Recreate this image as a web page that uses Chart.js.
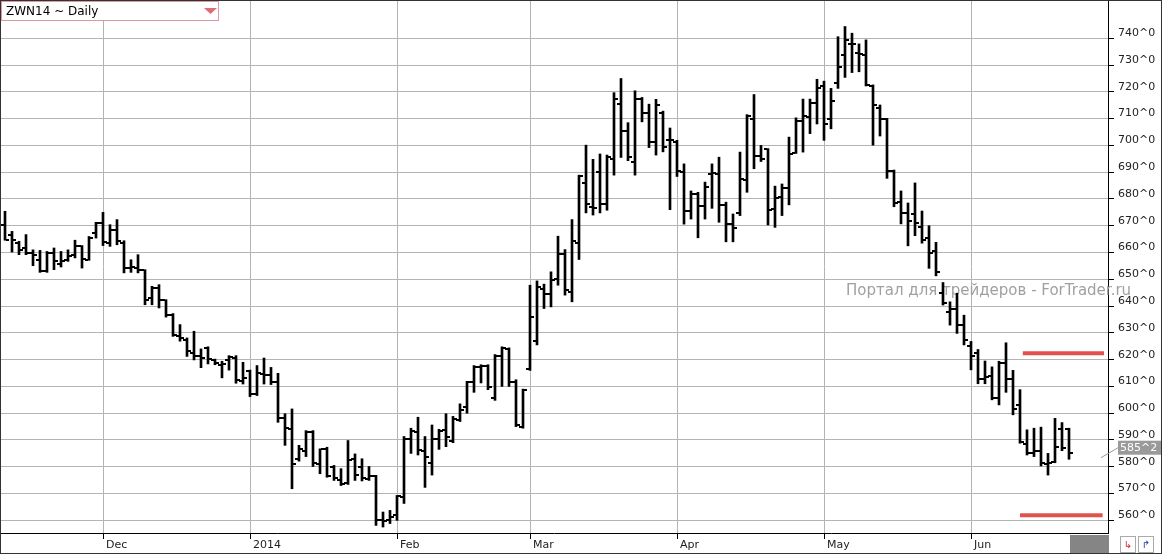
<!DOCTYPE html>
<html>
<head>
<meta charset="utf-8">
<script src="https://cdn.jsdelivr.net/npm/chart.js@4.4.1/dist/chart.umd.min.js"></script>
<style>
  body { margin: 0; background: #fff; }
  canvas { display: block; }
</style>
</head>
<body>
<canvas id="ohlcChart" width="1162" height="554"></canvas>
<script>
// daily bars, index 0 = first bar on the left (mid Nov 2013)
const opens = [
    670.4, 666.7, 663.6, 661.7, 659.8, 657.3, 653, 660, 655.8, 657.3,
    659.2, 662.3, 657.3, 667.3, 671, 663.6, 668.5, 663.6, 654.2, 654.2,
    653.4, 643, 646.8, 642.1, 636.8, 629, 627.4, 622.5, 621.5, 624.5,
    620, 618.1, 619.9, 620.6, 612.2, 615.9, 607.2, 614.7, 614.4, 611.6,
    598.3, 594.2, 583, 586, 592.9, 581.1, 586.7, 580.1, 575.2, 573.9,
    583, 579.9, 575.5, 576.4, 560, 560, 561.9, 568.8, 590.3, 593.1,
    586, 581.5, 590.3, 593.8, 589.8, 597.3, 602.3, 611.5, 617.3, 617.5,
    605.6, 621.3, 623.8, 611.5, 594.8, 616.5, 627, 646.2, 644.7, 650.3,
    659.4, 645.3, 663.6, 686, 677.1, 690.1, 678.3, 694.8, 715.4, 705.5,
    693.9, 717.2, 712.2, 701.4, 712.2, 702, 701.4, 690.1, 675.4, 681.9,
    677.5, 689.4, 689.4, 677.8, 670.6, 674.8, 686.9, 709.8, 696, 698.8,
    676.3, 680.6, 684, 697.3, 709, 710.6, 716, 722, 710, 723.4,
    733.8, 737.9, 734.4, 733.8, 722.2, 713.8, 709.7, 690.6, 679, 674.8,
    674.5, 669.5, 665.5, 660.4, 645, 637.9, 638.8, 632.9, 625, 622.4,
    612.7, 613.8, 605.6, 618.8, 612.8, 603.1, 588.5, 585.3, 586, 581,
    581.9, 594, 594
];
const highs = [
    675.4, 667.9, 664.2, 666.7, 661, 660.8, 660.4, 661.7, 660.4, 661,
    664.6, 662.6, 666, 671.3, 675, 670.4, 672.3, 664.4, 657.3, 659.2,
    653.6, 647.4, 648, 642.4, 637.2, 633.1, 628.1, 630.6, 624, 624.8,
    620.2, 619.4, 621.5, 621.5, 619, 616.1, 617.8, 620.6, 617.1, 614.9,
    599.8, 601.6, 588, 593.5, 593.5, 586.7, 587.3, 580.5, 579.3, 589.8,
    584.8, 583, 580.1, 576.8, 563.1, 563.7, 569.3, 591.3, 594.4, 598.5,
    591.3, 595.6, 594, 599.8, 598.8, 603.5, 611.9, 617.8, 618.1, 618.1,
    621.9, 624.8, 624.4, 612.5, 609, 647.8, 649.4, 648.2, 652.8, 666.1,
    661.1, 672.3, 688.9, 700.1, 694.8, 696.8, 696.4, 719.7, 725, 708.5,
    720.4, 717.9, 715.4, 717.2, 712.8, 706.5, 701.9, 693.1, 683, 682.5,
    686.3, 693.1, 695.6, 678.8, 674.4, 697.5, 711.5, 719, 700, 698.8,
    684.8, 685.6, 703.1, 710.3, 717.3, 717.3, 724.7, 724, 721.3, 740.6,
    744.4, 741.9, 737.9, 739.4, 722.6, 715.1, 710.1, 690.8, 683, 678.5,
    686, 675.5, 670, 663.8, 648.8, 641.6, 644.8, 636.6, 626.8, 623.8,
    619.5, 617.3, 619.4, 626.3, 616, 608.8, 593.8, 594.4, 594.8, 585,
    598.1, 596.5, 594.4
];
const lows = [
    664.6, 660.2, 659.2, 659.2, 655.1, 652.6, 652.6, 653.6, 654.6, 656.7,
    658, 654.2, 657.1, 665.4, 662.6, 662.3, 662.9, 652.4, 652.6, 652.4,
    640.5, 640.5, 639.3, 635.9, 628.7, 626.9, 621.2, 619.9, 617, 618.4,
    618.1, 613.2, 616.1, 611.2, 610.9, 606.2, 606.6, 610.9, 610.7, 596.6,
    588, 571.8, 582.1, 583.8, 580.1, 577.4, 576.1, 574.9, 573, 573.4,
    574.9, 574.7, 574.9, 558.1, 557.5, 558.8, 560, 566.3, 585, 584.4,
    572.3, 576.9, 586.5, 587.5, 589, 596.9, 600, 607.8, 611.3, 608.8,
    604.8, 610, 610, 595, 594.4, 616, 625.5, 639.1, 639.7, 647.8,
    644.1, 641.6, 657.4, 674.8, 674, 674.8, 675.8, 688.9, 695.5, 694.3,
    688.9, 708.8, 699.2, 696.4, 697.6, 676, 688.4, 670.6, 672.5, 665.5,
    672.5, 676.5, 671.3, 664, 664, 673.8, 682.5, 691.3, 694, 670.3,
    669.4, 673.8, 677.8, 697, 697.5, 704.4, 708, 701.9, 706.2, 721.3,
    725.4, 727.2, 727.5, 722.2, 700.1, 703.5, 687.7, 677.1, 670.7, 662.5,
    666.3, 663.5, 654.1, 651.3, 640.4, 632.9, 629.8, 625.5, 616.2, 611,
    611, 605, 603.1, 607.8, 599.4, 588.8, 584.4, 583.8, 580.3, 576.9,
    581.5, 586, 582.8
];
const closes = [
    664.8, 664.8, 661, 659.8, 659, 653, 659.8, 656.7, 656.7, 658.6,
    662.3, 657.7, 665.4, 671, 663.8, 668.5, 664.2, 654.2, 654.6, 653.6,
    642.4, 646.8, 642.4, 636.8, 629.3, 628.1, 623.1, 621.2, 620.5, 620.2,
    618.6, 618.4, 621.1, 612.4, 613.2, 607.2, 614.9, 614.4, 611.6, 598.3,
    594.5, 580.9, 586.7, 592.9, 581.4, 586.7, 576.4, 575.9, 573.7, 582.4,
    576.8, 575.9, 576.4, 560, 559.8, 561.2, 568.9, 590.3, 593.5, 586.3,
    583.8, 590.3, 593.5, 591, 597.8, 601.3, 611.5, 617.3, 617.8, 609.8,
    621.3, 624.4, 611.5, 595.6, 608.5, 636, 647.2, 644.4, 649.7, 659.4,
    645.9, 664.4, 688.5, 678.3, 676.5, 678.3, 695.8, 717.2, 705.5, 695.8,
    717.2, 712.2, 701.4, 715.1, 699.5, 702, 690.5, 675.4, 682, 677.2,
    684.4, 689.8, 677.8, 670.6, 669, 687.3, 711, 696, 695, 676,
    680.3, 684, 696.9, 709, 711, 716, 721.5, 708.1, 716.6, 729.2,
    739.4, 737.9, 734.1, 722.6, 715.1, 709.7, 690.6, 678.6, 674.8, 671.6,
    671, 664.6, 659.8, 652.9, 641, 638.8, 632.9, 627.4, 621.3, 612.6,
    613.5, 605.6, 618.8, 612.8, 601.5, 589.4, 585, 586, 581.3, 581.5,
    587.3, 586.9, 585.25
];

// first bar of each month
const monthIdx = [14, 35, 56, 75, 96, 117, 138];
const monthLabels = ["Dec", "2014", "Feb", "Mar", "Apr", "May", "Jun"];
const priceTicks = [560, 570, 580, 590, 600, 610, 620, 630, 640, 650,
    660, 670, 680, 690, 700, 710, 720, 730, 740];

// the two red level lines (price, first bar, last bar)
const levelPrices = [622.4, 561.9];
const levelFrom = [145.4, 145.0];
const levelTo = [157.0, 156.8];

const lastPrice = 585.25;
const lastPriceText = "585^2";
const symbolText = "ZWN14 ~ Daily";
const watermark = "Портал для трейдеров - ForTrader.ru";

const axisFont = { family: "'DejaVu Sans'", size: 11 };

// open tick on the left, close tick on the right
const ohlcTicks = {
    id: 'ohlcTicks',
    afterDatasetsDraw(chart) {
        const { ctx, scales: { x, y } } = chart;
        ctx.save();
        ctx.fillStyle = '#000';
        opens.forEach((o, i) => {
            const px = Math.round(x.getPixelForValue(i));
            ctx.fillRect(px - 4, Math.round(y.getPixelForValue(o)) - 1, 3, 2);
            ctx.fillRect(px + 1, Math.round(y.getPixelForValue(closes[i])) - 1, 3, 2);
        });
        ctx.restore();
    }
};

const decor = {
    id: 'decor',
    beforeDatasetsDraw(chart) {
        const ctx = chart.ctx;
        const y = chart.scales.y;
        ctx.save();
        ctx.fillStyle = '#a0a0a0';
        ctx.font = "15px 'DejaVu Sans'";
        ctx.textBaseline = 'middle';
        ctx.textAlign = 'left';
        ctx.fillText(watermark, 846, y.getPixelForValue(645.5));
        ctx.restore();
    },
    afterDraw(chart) {
        const ctx = chart.ctx;
        const y = chart.scales.y;
        ctx.save();
        // symbol box
        ctx.fillStyle = '#fff';
        ctx.fillRect(1, 1, 218, 20);
        ctx.strokeStyle = '#d99aa2';
        ctx.lineWidth = 1;
        ctx.strokeRect(1.5, 1.5, 217, 19);
        ctx.fillStyle = '#000';
        ctx.font = "12px 'DejaVu Sans'";
        ctx.textBaseline = 'middle';
        ctx.fillText(symbolText, 6, 12);
        ctx.fillStyle = '#e0697a';
        ctx.beginPath();
        ctx.moveTo(204, 8);
        ctx.lineTo(217, 8);
        ctx.lineTo(210.5, 14);
        ctx.closePath();
        ctx.fill();

        // last price marker
        const ly = y.getPixelForValue(lastPrice) - 5;
        ctx.strokeStyle = '#999';
        ctx.beginPath();
        ctx.moveTo(1101, ly + 10);
        ctx.lineTo(1118, ly);
        ctx.stroke();
        ctx.fillStyle = '#9a9a9a';
        ctx.fillRect(1118, ly - 7, 44, 14);
        ctx.fillStyle = '#fff';
        ctx.font = "11px 'DejaVu Sans'";
        ctx.textAlign = 'left';
        ctx.fillText(lastPriceText, 1120, ly);

        // scroll box and buttons at bottom right
        ctx.fillStyle = '#858585';
        ctx.fillRect(1070, 535, 39, 18);
        ctx.strokeStyle = '#aaa';
        ctx.fillStyle = '#fff';
        ctx.fillRect(1120, 536, 15, 16);
        ctx.strokeRect(1120.5, 536.5, 15, 16);
        ctx.fillRect(1138, 536, 15, 16);
        ctx.strokeRect(1138.5, 536.5, 15, 16);
        ctx.font = "10px 'DejaVu Sans'";
        ctx.textAlign = 'center';
        ctx.fillStyle = '#d03030';
        ctx.fillText('↳', 1128, 545);
        ctx.fillStyle = '#2040a0';
        ctx.fillText('↱', 1146, 545);

        // outer frame
        ctx.strokeStyle = '#333';
        ctx.strokeRect(0.5, 0.5, 1161, 553);
        ctx.restore();
    }
};

const barData = highs.map((h, i) => ({ x: i, y: [lows[i], h] }));
const levelSets = levelPrices.map((p, k) => ({
    type: 'line',
    data: [{ x: levelFrom[k], y: p }, { x: levelTo[k], y: p }],
    borderColor: '#e0524d',
    borderWidth: 4,
    borderCapStyle: 'butt',
    pointRadius: 0,
    order: 0
}));

const xMin = -5 / 7;

new Chart(document.getElementById('ohlcChart'), {
    type: 'bar',
    data: {
        datasets: [{
            data: barData,
            backgroundColor: '#000',
            borderWidth: 0,
            barThickness: 2,
            order: 1
        }, ...levelSets]
    },
    options: {
        responsive: false,
        animation: false,
        devicePixelRatio: 1,
        layout: { padding: 0 },
        plugins: {
            legend: { display: false },
            tooltip: { enabled: false }
        },
        scales: {
            x: {
                type: 'linear',
                min: xMin,
                max: xMin + 1108 / 7,
                offset: false,
                afterFit(s) {
                    s.height = 21;
                    s.paddingLeft = 0;
                    s.paddingRight = 0;
                },
                afterBuildTicks(s) { s.ticks = monthIdx.map(v => ({ value: v })); },
                grid: { color: '#b4b4b4', tickColor: '#000', tickLength: 6, offset: false },
                border: { color: '#000' },
                ticks: {
                    callback: v => monthLabels[monthIdx.indexOf(v)],
                    align: 'start',
                    labelOffset: 3,
                    padding: 0,
                    maxRotation: 0,
                    autoSkip: false,
                    font: axisFont,
                    color: '#222'
                }
            },
            y: {
                position: 'right',
                min: 555.27,
                max: 754.3,
                afterFit(s) {
                    s.width = 54;
                    s.paddingTop = 0;
                    s.paddingBottom = 0;
                },
                afterBuildTicks(s) { s.ticks = priceTicks.map(v => ({ value: v })); },
                grid: { color: '#b4b4b4', tickColor: '#000', tickLength: 6 },
                border: { color: '#000' },
                ticks: {
                    callback: v => v + '^0',
                    padding: 4,
                    labelOffset: -5,
                    font: axisFont,
                    color: '#222'
                }
            }
        }
    },
    plugins: [ohlcTicks, decor]
});
</script>
</body>
</html>
